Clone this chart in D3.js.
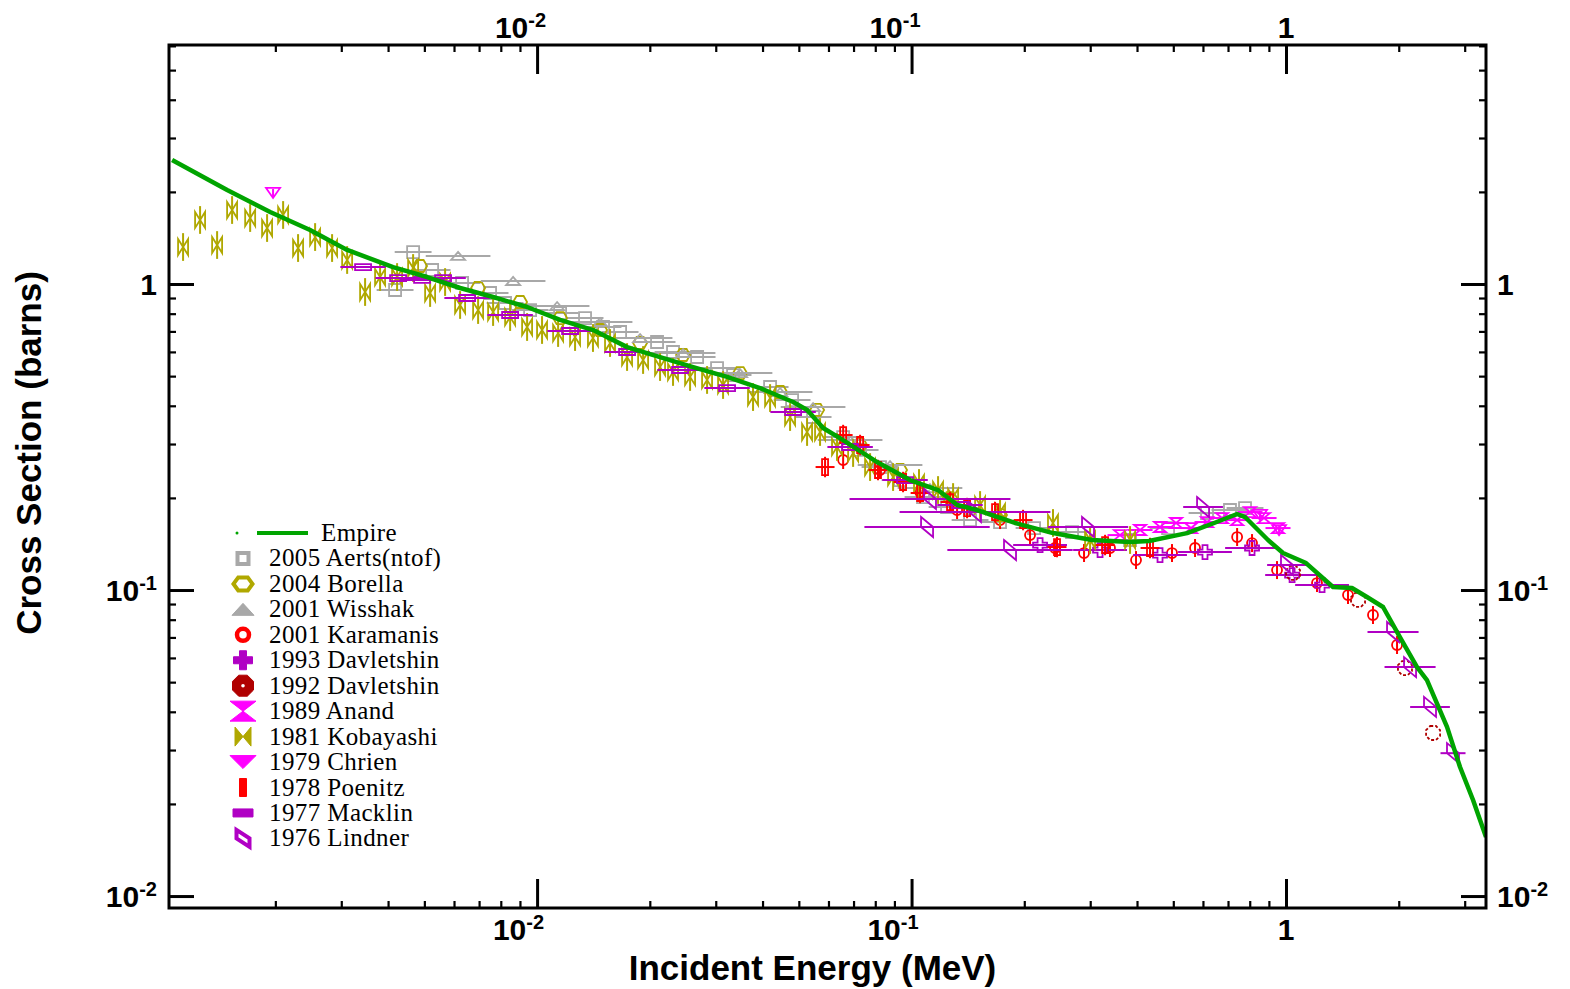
<!DOCTYPE html>
<html><head><meta charset="utf-8">
<script src="https://cdn.jsdelivr.net/npm/d3@7"></script>
<style>body{margin:0;background:#fff} svg{display:block}</style>
</head><body>
<svg id="c" width="1570" height="989"></svg>
<script>
// ---------- axis ranges & ticks ----------
const xDomain = [0.00104, 3.42];
const yDomain = [0.00914, 6.04];
const xMajorTicks = [0.01, 0.1, 1];
const yMajorTicks = [0.01, 0.1, 1];
const xTitle = "Incident Energy (MeV)";
const yTitle = "Cross Section (barns)";

// ---------- data: [energy MeV, cross section b, (optional x-error factor)] ----------
const empire = [[0.00106,2.542],[0.001487,2.029],[0.001937,1.719],[0.002476,1.501],[0.00311,1.292],[0.004125,1.136],[0.005085,1.054],[0.006229,0.9704],[0.00763,0.9068],[0.009404,0.8411],[0.01152,0.763],[0.01412,0.707],[0.0174,0.622],[0.0213,0.577],[0.0261,0.535],[0.03216,0.497],[0.03938,0.457],[0.04827,0.4115],[0.05263,0.3876],[0.05806,0.3384],[0.06566,0.309],[0.0809,0.262],[0.09908,0.2288],[0.1177,0.2122],[0.1324,0.1896],[0.1496,0.1826],[0.1889,0.1656],[0.2387,0.1535],[0.3034,0.1457],[0.3833,0.1435],[0.4306,0.1446],[0.5441,0.1535],[0.6427,0.1656],[0.7403,0.1772],[0.7772,0.1732],[0.8953,0.1457],[0.9817,0.1321],[1.131,0.1225],[1.335,0.1023],[1.50,0.1015],[1.645,0.0949],[1.816,0.088],[2.03,0.069],[2.238,0.056],[2.379,0.0508],[2.691,0.0357],[2.915,0.0264],[3.158,0.0206],[3.42,0.0156]];

const aerts = [[0.004176,0.9558],[0.004666,1.272],[0.005244,1.111],[0.006305,1.008],[0.007489,0.9345],[0.008212,0.8668],[0.009579,0.8222],[0.01152,0.8037],[0.01343,0.7741],[0.015,0.7236],[0.01666,0.6968],[0.02091,0.6463],[0.02307,0.5995],[0.02675,0.5774],[0.03024,0.5314],[0.03337,0.5041],[0.0419,0.4607],[0.04797,0.4177],[0.05458,0.3676],[0.06566,0.3162],[0.07288,0.2869],[0.08237,0.2523],[0.09317,0.2288],[0.1073,0.2013],[0.1244,0.1867],[0.1433,0.1693],[0.1723,0.1668],[0.2124,0.1594],[0.2683,0.1547],[0.3833,0.1457],[0.4842,0.1594],[0.6152,0.1785],[0.7085,0.1826],[0.7772,0.1853]];
const aertsErrX = 1.12;

const borella = [[0.00487,1.145],[0.006958,0.9704],[0.009007,0.8733],[0.01152,0.7741],[0.01473,0.7075],[0.01884,0.6415],[0.02454,0.5861],[0.03483,0.5118],[0.04456,0.4437],[0.05595,0.3876],[0.07288,0.2978],[0.09317,0.2467],[0.1267,0.1998],[0.1723,0.1758]];

const wisshak = [[0.006152,1.235],[0.008629,1.023],[0.01131,0.8475],[0.01473,0.7513],[0.01884,0.6661],[0.02454,0.595],[0.03483,0.5118],[0.04456,0.4437],[0.05458,0.3963],[0.06854,0.309],[0.08761,0.2561],[0.112,0.2154]];
const wisshakErrX = 1.22;

const karamanis = [[0.06566,0.266],[0.08237,0.2467],[0.1054,0.2091],[0.1323,0.1826],[0.1723,0.1693],[0.2072,0.1512],[0.2416,0.1372],[0.2888,0.1321],[0.3388,0.1372],[0.3976,0.1253],[0.4961,0.1321],[0.5715,0.1372],[0.7403,0.149],[0.8114,0.1424],[0.9462,0.1162],[1.21,0.1054],[1.464,0.09631],[1.707,0.08286],[1.979,0.06612]];
const karamanisErrY = 1.07;

const davletshin1993 = [[0.2204,0.1403],[0.3187,0.1351],[0.4608,0.1301],[0.6076,0.1331],[0.8114,0.1372],[1.038,0.1119],[1.248,0.1038]];
const davletshin1993ErrX = 1.18;

const davletshin1992 = [[1.044,0.1137],[1.557,0.0928],[2.078,0.0556],[2.47,0.0341]];

const anand = [[0.3603,0.1512],[0.4076,0.1571],[0.4608,0.1607],[0.5085,0.1656],[0.5576,0.1594],[0.6152,0.1668],[0.6747,0.1719],[0.7403,0.1693],[0.8014,0.1798],[0.8736,0.1719],[0.9519,0.1594]];
const anandErrX = 1.08;

const kobayashi = [[0.001134,1.321],[0.001259,1.619],[0.001398,1.341],[0.001533,1.745],[0.001713,1.643],[0.001901,1.524],[0.002098,1.681],[0.0023,1.311],[0.002554,1.424],[0.002835,1.311],[0.00311,1.198],[0.003473,0.9416],[0.003808,1.054],[0.004228,1.054],[0.004666,1.128],[0.00518,0.9345],[0.00568,1.015],[0.006229,0.854],[0.006958,0.8222],[0.00763,0.81],[0.008472,0.78],[0.009404,0.7236],[0.01031,0.7075],[0.01138,0.6916],[0.01263,0.6711],[0.0141,0.6661],[0.01566,0.6415],[0.01739,0.5774],[0.01919,0.5645],[0.0213,0.5355],[0.02307,0.5159],[0.02562,0.4969],[0.02844,0.4858],[0.03138,0.4677],[0.03773,0.4272],[0.0419,0.424],[0.04738,0.3676],[0.0526,0.3284],[0.05697,0.3284],[0.06324,0.2934],[0.06981,0.2804],[0.07749,0.2523],[0.08926,0.234],[0.1047,0.2237],[0.1177,0.2122],[0.1291,0.2013],[0.1524,0.1896],[0.1723,0.1798],[0.2386,0.1656],[0.2997,0.1457],[0.3833,0.1457]];
const kobayashiErrY = 1.11;

const chrien = [[0.001972,1.984],[0.852,0.176],[0.958,0.157]];
const chrienErrY = 1.03;

const poenitz = [[0.05875,0.2523],[0.06566,0.321],[0.07288,0.2978],[0.08136,0.2467],[0.09491,0.2254],[0.1054,0.2075],[0.1267,0.1939],[0.1407,0.1853],[0.1671,0.1798],[0.1985,0.1693],[0.2446,0.1382],[0.3287,0.1403],[0.4333,0.1372]];
const poenitzErrX = 1.06, poenitzErrY = 1.08;

const macklin = [[0.00343,1.136],[0.004255,1.046],[0.00493,1.031],[0.00561,1.046],[0.006502,0.9001],[0.008472,0.792],[0.01225,0.7022],[0.01739,0.5995],[0.02409,0.5236],[0.03216,0.457],[0.04827,0.3818],[0.06854,0.2934],[0.09607,0.2288],[0.1347,0.1896]];
const macklinErrX = 1.15;

const lindner = [[0.112,0.1983,1.64],[0.1477,0.1798,1.59],[0.11,0.1607,1.47],[0.1832,0.1351,1.47],[0.296,0.1607,1.28],[0.6004,0.1867,1.13],[1.006,0.1207,1.13],[1.931,0.0729,1.17],[2.144,0.056,1.17],[2.424,0.0415,1.13],[2.792,0.0293,1.08]];

// ---------- styles ----------
const C = {gray:"#a8a8a8", olive:"#b0a800", red:"#ff0000", purple:"#b000c4", darkred:"#b00000", magenta:"#ff00ff", green:"#00a400"};

const shapes = {
  square:(w,h)=>`M${-w},${-h}H${w}V${h}H${-w}Z`,
  hex:(w,h)=>`M${-w},0L${-w/2},${-h}L${w/2},${-h}L${w},0L${w/2},${h}L${-w/2},${h}Z`,
  triUp:(w,h)=>`M${-w},${h}L0,${-h}L${w},${h}Z`,
  triDown:(w,h)=>`M${-w},${-h}L0,${h}L${w},${-h}Z`,
  circle:(w)=>`M${w},0A${w},${w} 0 1,1 ${-w},0A${w},${w} 0 1,1 ${w},0Z`,
  plus:(w,h)=>`M${-h},${-w}H${h}V${-h}H${w}V${h}H${h}V${w}H${-h}V${h}H${-w}V${-h}H${-h}Z`,
  octo:(w)=>{const a=w*0.41;return `M${-a},${-w}L${a},${-w}L${w},${-a}L${w},${a}L${a},${w}L${-a},${w}L${-w},${a}L${-w},${-a}Z`;},
  hourglass:(w,h)=>`M${-w},${-h}L${w},${-h}L${-w},${h}L${w},${h}Z`,
  bowtie:(w,h)=>`M${-w},${-h}L${w},${h}L${w},${-h}L${-w},${h}Z`,
  rect:(w,h)=>`M${-w},${-h}H${w}V${h}H${-w}Z`,
  para:(w,h)=>`M${-w},${-h}L${w},0L${w},${h}L${-w},0Z`
};

const series = [
  {name:"2005 Aerts(ntof)", data:aerts, color:C.gray, shape:"square", w:6, h:6, ex:aertsErrX, L:{w:5.5,h:5.5,fill:false,sw:4}},
  {name:"2004 Borella", data:borella, color:C.olive, shape:"hex", w:7, h:6, L:{w:9.5,h:6.5,fill:false,sw:4}},
  {name:"2001 Wisshak", data:wisshak, color:C.gray, shape:"triUp", w:7, h:4, ex:wisshakErrX, L:{w:11,h:6,fill:true,sw:1}},
  {name:"2001 Karamanis", data:karamanis, color:C.red, shape:"circle", w:5, h:5, ey:karamanisErrY, L:{w:6,h:6,fill:false,sw:4.5}},
  {name:"1993 Davletshin", data:davletshin1993, color:C.purple, shape:"plus", w:7, h:2.5, ex:davletshin1993ErrX, L:{w:9.5,h:3.5,fill:true,sw:1}},
  {name:"1992 Davletshin", data:davletshin1992, color:C.darkred, shape:"octo", w:7, h:7, dash:"3,2", L:{w:10.5,h:10.5,fill:true,sw:1,hole:true}},
  {name:"1989 Anand", data:anand, color:C.magenta, shape:"hourglass", w:6, h:5, ex:anandErrX, L:{w:13,h:10,fill:true,sw:1}},
  {name:"1981 Kobayashi", data:kobayashi, color:C.olive, shape:"bowtie", w:5, h:8, ey:kobayashiErrY, L:{w:8,h:9.5,fill:true,sw:1}},
  {name:"1979 Chrien", data:chrien, color:C.magenta, shape:"triDown", w:7, h:5, ey:chrienErrY, L:{w:13,h:6.5,fill:true,sw:1}},
  {name:"1978 Poenitz", data:poenitz, color:C.red, shape:"rect", w:3, h:8, ex:poenitzErrX, ey:poenitzErrY, L:{w:3.5,h:9,fill:true,sw:1}},
  {name:"1977 Macklin", data:macklin, color:C.purple, shape:"rect", w:8, h:3, ex:macklinErrX, L:{w:10,h:4,fill:true,sw:1}},
  {name:"1976 Lindner", data:lindner, color:C.purple, shape:"para", w:6, h:10, L:{w:6.5,h:8.5,fill:false,sw:4}}
];

// ---------- chart ----------
const svg = d3.select("#c");
const L = 169, R = 1486, T = 45, B = 908;
const x = d3.scaleLog().domain(xDomain).range([L, R]);
const y = d3.scaleLog().domain(yDomain).range([B, T]);

svg.append("rect").attr("width",1570).attr("height",989).attr("fill","#fff");
svg.append("clipPath").attr("id","clip").append("rect").attr("x",L).attr("y",T).attr("width",R-L).attr("height",B-T);
const plot = svg.append("g").attr("clip-path","url(#clip)");

series.forEach(s=>{
  const g = plot.append("g");
  s.data.forEach(d=>{
    const cx = x(d[0]), cy = y(d[1]);
    const fx = d[2] !== undefined ? d[2] : s.ex;
    if (fx) g.append("line").attr("x1",x(d[0]/fx)).attr("x2",x(d[0]*fx)).attr("y1",cy).attr("y2",cy)
             .attr("stroke",s.color).attr("stroke-width",2);
    if (s.ey) g.append("line").attr("x1",cx).attr("x2",cx).attr("y1",y(d[1]/s.ey)).attr("y2",y(d[1]*s.ey))
             .attr("stroke",s.color).attr("stroke-width",2);
    g.append("path").attr("d",shapes[s.shape](s.w,s.h)).attr("transform",`translate(${cx},${cy})`)
      .attr("fill","none").attr("stroke",s.color).attr("stroke-width",1.8)
      .attr("stroke-dasharray",s.dash||null);
  });
});

plot.append("path").datum(empire)
  .attr("d", d3.line().x(d=>x(d[0])).y(d=>y(d[1])))
  .attr("fill","none").attr("stroke",C.green).attr("stroke-width",4.5).attr("stroke-linejoin","round");

// ---------- axes ----------
const xMinor = x.ticks().filter(v=>!xMajorTicks.some(m=>Math.abs(m-v)/m<1e-6));
const yMinor = y.ticks().filter(v=>!yMajorTicks.some(m=>Math.abs(m-v)/m<1e-6));
function styleAxis(g, w){ g.select(".domain").remove(); g.selectAll("line").attr("stroke","#000").attr("stroke-width",w); }
[[d3.axisBottom,`translate(0,${B})`,x,xMajorTicks,xMinor,29],[d3.axisTop,`translate(0,${T})`,x,xMajorTicks,xMinor,29],
 [d3.axisLeft,`translate(${L},0)`,y,yMajorTicks,yMinor,25],[d3.axisRight,`translate(${R},0)`,y,yMajorTicks,yMinor,25]]
.forEach(([ax,tr,sc,maj,mino,len])=>{
  svg.append("g").attr("transform",tr).call(ax(sc).tickValues(mino).tickSize(-7).tickSizeOuter(0).tickFormat("")).call(g=>styleAxis(g,2.2));
  svg.append("g").attr("transform",tr).call(ax(sc).tickValues(maj).tickSize(-len).tickSizeOuter(0).tickFormat("")).call(g=>styleAxis(g,3));
});
svg.append("rect").attr("x",L).attr("y",T).attr("width",R-L).attr("height",B-T)
  .attr("fill","none").attr("stroke","#000").attr("stroke-width",3);

const tf = "'Liberation Sans', Arial, Helvetica, sans-serif";
function powLabel(t, v){
  const e = Math.round(Math.log10(v));
  if (e === 0) { t.text("1"); return; }
  t.text("10");
  t.append("tspan").attr("dy",-11).attr("font-size",20).text(String(e));
}
function label(px, py, anchor, v){
  const t = svg.append("text").attr("x",px).attr("y",py).attr("text-anchor",anchor)
    .attr("font-family",tf).attr("font-weight","bold").attr("font-size",30).attr("fill","#000");
  powLabel(t, v);
}
xMajorTicks.forEach(v=>{
  const isOne = Math.abs(Math.log10(v))<1e-9;
  label(isOne ? x(v) : x(v)+7, 940, isOne ? "middle":"end", v);
  label(isOne ? x(v) : x(v)+9, 38, isOne ? "middle":"end", v);
});
yMajorTicks.forEach(v=>{
  label(157, y(v)+11, "end", v);
  label(1497, y(v)+11, "start", v);
});

svg.append("text").attr("x",(L+R)/2+-15).attr("y",980).attr("text-anchor","middle")
  .attr("font-family",tf).attr("font-weight","bold").attr("font-size",35).text(xTitle);
svg.append("text").attr("transform","translate(41,453) rotate(-90)").attr("text-anchor","middle")
  .attr("font-family",tf).attr("font-weight","bold").attr("font-size",35).text(yTitle);

// ---------- legend ----------
const lf = "'Liberation Serif', 'Times New Roman', serif";
const row0 = 533, rowH = 25.45, symX = 243;
const lg = svg.append("g");
lg.append("circle").attr("cx",237).attr("cy",row0).attr("r",1.5).attr("fill",C.green);
lg.append("line").attr("x1",257).attr("x2",308).attr("y1",row0).attr("y2",row0).attr("stroke",C.green).attr("stroke-width",4);
lg.append("text").attr("x",321).attr("y",row0+8).attr("font-family",lf).attr("font-size",25).attr("letter-spacing",0.4).text("Empire");
series.forEach((s,i)=>{
  const cy = row0 + rowH*(i+1);
  const l = s.L;
  lg.append("path").attr("d",shapes[s.shape](l.w,l.h)).attr("transform",`translate(${symX},${cy})`)
    .attr("fill", l.fill ? s.color : "none").attr("stroke",s.color).attr("stroke-width",l.sw);
  if (l.hole) lg.append("circle").attr("cx",symX).attr("cy",cy).attr("r",1.8).attr("fill","#fff");
  lg.append("text").attr("x",269).attr("y",cy+8).attr("font-family",lf).attr("font-size",25).attr("letter-spacing",0.4).text(s.name);
});
</script>
</body></html>
